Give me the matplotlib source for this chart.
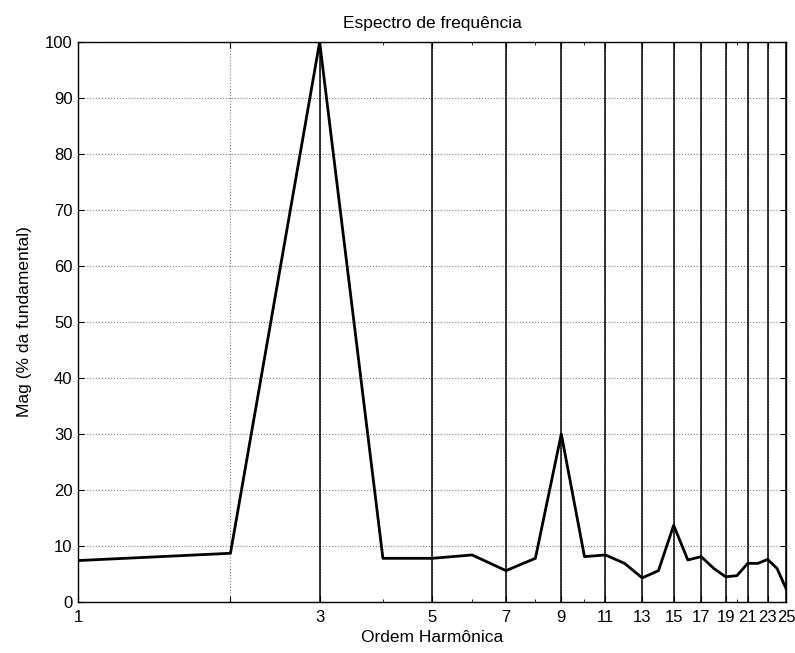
import matplotlib.pyplot as plt
from matplotlib.ticker import FixedLocator, NullFormatter

plt.rcParams['font.family'] = ['Liberation Sans', 'DejaVu Sans']

# harmonic orders and magnitude (% of fundamental)
ordem = list(range(1, 26))
mag = [7.4, 8.7, 100.0, 7.8, 7.8, 8.4, 5.6, 7.8, 30.0, 8.1,
       8.4, 6.9, 4.3, 5.6, 13.7, 7.5, 8.1, 6.0, 4.5, 4.7,
       6.9, 6.9, 7.6, 6.0, 2.4]
impares = [3, 5, 7, 9, 11, 13, 15, 17, 19, 21, 23, 25]
xticks = [1, 2] + impares
xlabels = ['1', ''] + [str(v) for v in impares]
yticks = list(range(0, 101, 10))

fig = plt.figure(figsize=(7.95, 6.53), dpi=100)
ax = fig.add_axes([0.0981, 0.0781, 0.8906, 0.8576])

ax.set_xscale('log')
ax.vlines(impares, 0, 100, colors='black', linewidth=1.1, zorder=2)
ax.plot(ordem, mag, color='black', linewidth=2.0, zorder=3)

ax.set_xlim(1, 25)
ax.set_ylim(0, 100)
ax.xaxis.set_major_locator(FixedLocator(xticks))
ax.set_xticklabels(xlabels)
ax.xaxis.set_minor_locator(FixedLocator([4, 6, 8, 10, 20]))
ax.xaxis.set_minor_formatter(NullFormatter())
ax.set_yticks(yticks)

ax.grid(True, which='major', color='#808080', linestyle=':', linewidth=0.8)
ax.tick_params(which='both', direction='in', top=True, right=True,
               labelsize=12, color='black')
ax.tick_params(which='major', length=4)
ax.tick_params(axis='x', which='major', pad=6)
ax.tick_params(axis='y', which='major', pad=4)
ax.tick_params(which='minor', length=2)
for s in ax.spines.values():
    s.set_linewidth(1.0)

ax.set_title('Espectro de frequência', fontsize=12.5, pad=10)
ax.set_xlabel('Ordem Harmônica', fontsize=12.5, labelpad=3)
ax.set_ylabel('Mag (% da fundamental)', fontsize=12.5, labelpad=9)

fig.savefig('out.png', dpi=100)
